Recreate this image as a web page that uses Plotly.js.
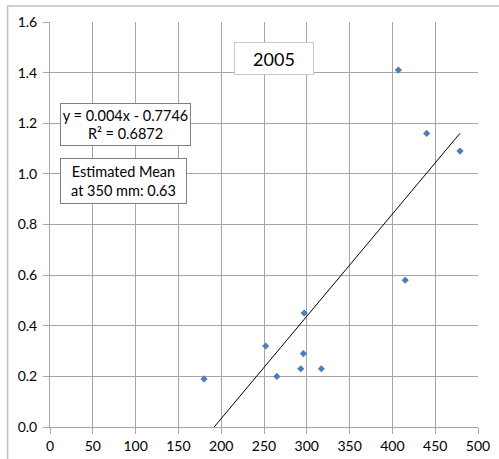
<!DOCTYPE html>
<html><head><meta charset="utf-8">
<script src="https://cdn.plot.ly/plotly-3.0.1.min.js"></script>
<style>html,body{margin:0;padding:0;background:#fff;}#chart{width:499px;height:459px;}</style>
</head><body><div id="chart"></div>
<script>
const rainfall = [180, 252, 265, 293, 296, 297, 317, 407, 415, 440, 479];
const values = [0.19, 0.32, 0.20, 0.23, 0.29, 0.45, 0.23, 1.41, 0.58, 1.16, 1.09];
const slope = 0.00404;
const intercept = -0.7746;
const trendX = [Math.min(...rainfall), Math.max(...rainfall)];
const trendY = trendX.map(x => slope * x + intercept);
const xTicks = [0, 50, 100, 150, 200, 250, 300, 350, 400, 450, 500];
const yTicks = [0.0, 0.2, 0.4, 0.6, 0.8, 1.0, 1.2, 1.4, 1.6];
const titleText = "2005";
const eqText = "y = 0.004x - 0.7746<br>R² = 0.6872";
const meanText = "Estimated Mean<br>at 350 mm: 0.63";

const font = "Lato, 'Open Sans', sans-serif";
const L = 49.5, R = 20.5, T = 22, B = 32, W = 499, H = 459;
const pw = W - L - R, ph = H - T - B;
const px = v => (v - L) / pw;
const py = v => (H - B - v) / ph;

Plotly.newPlot('chart', [
  {x: rainfall, y: values, mode: 'markers', type: 'scatter',
   marker: {symbol: 'diamond', size: 5.5, color: '#4a7ebb'}},
  {x: trendX, y: trendY, mode: 'lines', type: 'scatter',
   line: {color: '#000', width: 1}}
], {
  width: W, height: H,
  margin: {l: L, r: R, t: T, b: B, pad: 0},
  showlegend: false,
  paper_bgcolor: '#fff', plot_bgcolor: '#fff',
  font: {family: font, size: 14, color: '#000'},
  xaxis: {range: [0, 500], tickvals: xTicks, ticktext: xTicks.map(String),
    showgrid: true, gridcolor: '#a6a6a6', gridwidth: 1,
    showline: true, linecolor: '#a6a6a6', linewidth: 1,
    ticks: 'outside', ticklen: 6, tickcolor: '#a6a6a6',
    zeroline: false, tickfont: {size: 14}, fixedrange: true},
  yaxis: {range: [0, 1.6], tickvals: yTicks, ticktext: yTicks.map(v => v.toFixed(1)),
    showgrid: true, gridcolor: '#a6a6a6', gridwidth: 1,
    showline: true, linecolor: '#a6a6a6', linewidth: 1,
    ticks: 'outside', ticklen: 6, tickcolor: '#a6a6a6', ticklabelstandoff: 3,
    zeroline: false, tickfont: {size: 14}, fixedrange: true},
  shapes: [
    {type: 'rect', xref: 'paper', yref: 'paper', x0: px(7), x1: px(520), y0: py(480), y1: py(6),
     line: {color: '#bfbfbf', width: 1.5}, fillcolor: 'rgba(0,0,0,0)', layer: 'below'}
  ],
  annotations: [
    {text: titleText, xref: 'paper', yref: 'paper', x: px(274), y: py(58.5),
     xanchor: 'center', yanchor: 'middle', showarrow: false,
     font: {size: 18, family: font}, bgcolor: '#fff', bordercolor: '#c8c8c8', borderwidth: 1,
     borderpad: 1, width: 76, height: 29},
    {text: eqText, xref: 'paper', yref: 'paper', x: px(60), y: py(103),
     xanchor: 'left', yanchor: 'top', showarrow: false, align: 'center',
     font: {size: 14.5, family: font}, bgcolor: '#fff', bordercolor: '#7f7f7f', borderwidth: 1,
     borderpad: 1, width: 127, height: 39},
    {text: meanText, xref: 'paper', yref: 'paper', x: px(60), y: py(158),
     xanchor: 'left', yanchor: 'top', showarrow: false, align: 'center',
     font: {size: 14.5, family: font}, bgcolor: '#fff', bordercolor: '#7f7f7f', borderwidth: 1,
     borderpad: 1, width: 123, height: 42}
  ]
}, {staticPlot: true});
</script></body></html>
